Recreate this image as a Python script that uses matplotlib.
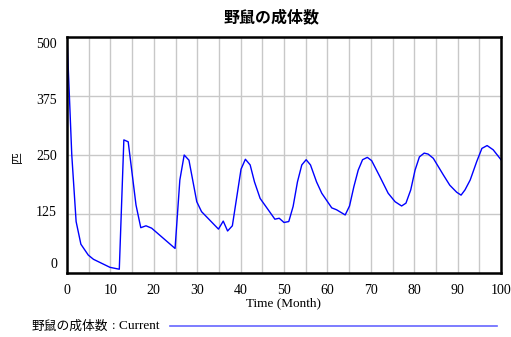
import matplotlib
matplotlib.use("Agg")
import matplotlib.pyplot as plt
from matplotlib.lines import Line2D
import matplotlib.transforms as mtransforms

# Data
time = [0, 1.1, 2.1, 3.2, 4.9, 6.1, 9.9, 12.05, 13.1, 14.1, 15.9, 17, 18.2, 19.5,
        24.9, 26, 27, 28.1, 29.9, 31, 34.9, 36, 37, 38.1, 40.1, 41.1, 42.2, 43.2,
        44.5, 47.9, 48.9, 50, 51.1, 52.1, 53.1, 54.1, 55.1, 56.1, 57.5, 58.7, 61,
        62.1, 64.1, 65.1, 66.1, 67.1, 68.1, 69.2, 70.2, 72.1, 74, 75.6, 77.1, 78.1,
        79.2, 80.2, 81.2, 82.3, 83.2, 84.4, 86.7, 88.2, 89.8, 90.8, 91.7, 92.9,
        94.4, 95.6, 96.8, 98.2, 100]
adults = [500, 250, 109, 61, 38, 29, 12, 8, 282, 278, 144, 96, 100, 95,
          52, 197, 250, 239, 151, 130, 93, 110, 89, 100, 220, 241, 229, 193,
          158, 114, 116, 107, 109, 141, 193, 229, 240, 229, 193, 169, 138,
          134, 123, 142, 183, 218, 240, 245, 238, 204, 169, 151, 142, 148,
          176, 218, 246, 254, 252, 243, 208, 186, 171, 165, 176, 197,
          236, 264, 270, 261, 240]

title = "野鼠の成体数"
xlabel = "Time (Month)"
ylabel = "匹"
legend_label = "野鼠の成体数 : Current"
yticks = [0, 125, 250, 375, 500]
xticks = list(range(0, 101, 10))

W, H = 511, 337
fig = plt.figure(figsize=(W / 100, H / 100), dpi=100)
ax = fig.add_axes([67 / W, 1 - 273 / H, (501 - 67) / W, (273 - 37) / H])

ax.plot(time, adults, color="#0000ff", lw=1.0)
ax.set_xlim(0, 100)
ax.set_ylim(0, 500)

# grid
ax.set_xticks(range(0, 101, 5))
ax.set_yticks(yticks)
ax.grid(True, color="#c8c8c8", lw=1.0)
ax.set_axisbelow(True)
ax.tick_params(length=0, labelbottom=False, labelleft=False)
for s in ax.spines.values():
    s.set_color("black")
    s.set_linewidth(1.8)

serif = "Liberation Serif"
cjk = ["Noto Sans CJK JP", "DejaVu Sans"]

# x tick labels
for xv in xticks:
    ax.text(xv, -0.045, str(xv), transform=mtransforms.blended_transform_factory(ax.transData, ax.transAxes),
            ha="center", va="top", fontsize=10, family=serif)

# y tick labels (Vensim-style, pulled inward at ends)
label_px = {0: 265, 125: 212, 250: 156, 375: 101, 500: 45}
for yv in yticks:
    fig.text(57 / W, 1 - label_px[yv] / H, str(yv), ha="right", va="center",
             fontsize=10, family=serif)

fig.text(284 / W, 1 - 303 / H, xlabel, ha="center", va="center", fontsize=9.5, family=serif)
fig.text(17 / W, 1 - 157 / H, ylabel, ha="center", va="center", rotation=90,
         fontsize=8.5, family=cjk)
fig.text(271 / W, 1 - 17 / H, title, ha="center", va="center", fontsize=11.5,
         family=cjk, fontweight="bold")

# legend
t1 = fig.text(32 / W, 1 - 326 / H, "野鼠の成体数", ha="left", va="center", fontsize=9.2, family=cjk)
fig.canvas.draw()
bb = t1.get_window_extent()
fig.text((bb.x1 + 4) / W, 1 - 326 / H, ": Current", ha="left", va="center", fontsize=9.5, family=serif)
fig.add_artist(Line2D([170 / W, 497 / W], [1 - 326 / H, 1 - 326 / H], color="#6666ff",
                      lw=1.2, transform=fig.transFigure))

fig.savefig("out.png", dpi=100)
